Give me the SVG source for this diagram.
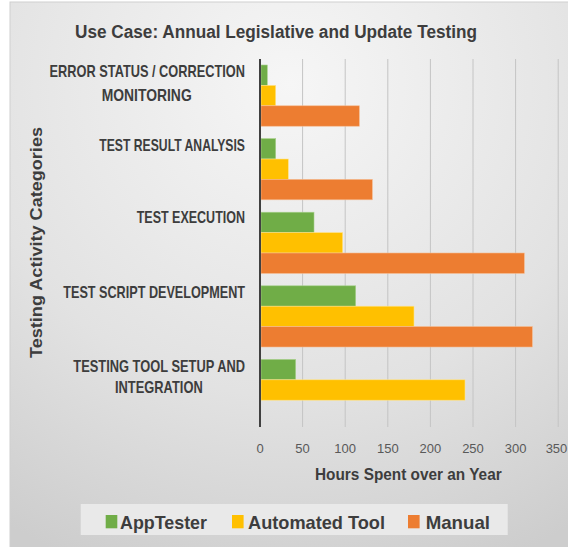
<svg xmlns="http://www.w3.org/2000/svg" width="568" height="547" viewBox="0 0 568 547">
<defs>
<radialGradient id="bg" cx="50%" cy="15%" r="95%">
<stop offset="0" stop-color="#f6f6f6"/>
<stop offset="0.6" stop-color="#e2e2e2"/>
<stop offset="1" stop-color="#cdcdcd"/>
</radialGradient>
</defs>
<style>
text{font-family:"Liberation Sans",Arial,sans-serif;font-weight:bold;fill:#3d3d3d}
.cat{font-size:17px}
.tick{font-size:13px;font-weight:normal;fill:#595959;text-anchor:middle}
.grid{stroke:#c4c4c4;stroke-width:1}
.g{fill:#70ad47;stroke:#a9d18e;stroke-width:0.6}
.y{fill:#ffc000;stroke:#ffe38a;stroke-width:0.6}
.o{fill:#ed7d31;stroke:#f6b98d;stroke-width:0.6}
.leg{font-size:19px}
</style>
<rect x="0" y="0" width="568" height="547" fill="#ffffff"/>
<rect x="10" y="2" width="560" height="547" fill="url(#bg)" stroke="#d0d0d0" stroke-width="1"/>
<text id="title" x="75" y="37.5" font-size="18" textLength="402" lengthAdjust="spacingAndGlyphs">Use Case: Annual Legislative and Update Testing</text>
<g id="gridlines">
<line class="grid" x1="302.6" y1="59" x2="302.6" y2="427"/>
<line class="grid" x1="345.2" y1="59" x2="345.2" y2="427"/>
<line class="grid" x1="387.8" y1="59" x2="387.8" y2="427"/>
<line class="grid" x1="430.4" y1="59" x2="430.4" y2="427"/>
<line class="grid" x1="473" y1="59" x2="473" y2="427"/>
<line class="grid" x1="515.6" y1="59" x2="515.6" y2="427"/>
<line class="grid" x1="558.2" y1="59" x2="558.2" y2="427"/>
</g>
<g id="cat-error">
<text class="cat" x="49.6" y="76.7" textLength="195.4" lengthAdjust="spacingAndGlyphs">ERROR STATUS / CORRECTION</text>
<text class="cat" x="101.7" y="100.5" textLength="90" lengthAdjust="spacingAndGlyphs">MONITORING</text>
<rect class="g" x="261" y="65" width="6.3" height="20.4"/>
<rect class="y" x="261" y="85.4" width="14.7" height="20.4"/>
<rect class="o" x="261" y="105.8" width="98.3" height="20.4"/>
</g>
<g id="cat-result">
<text class="cat" x="99.3" y="151.3" textLength="145.7" lengthAdjust="spacingAndGlyphs">TEST RESULT ANALYSIS</text>
<rect class="g" x="261" y="138.6" width="14.7" height="20.4"/>
<rect class="y" x="261" y="159" width="27.3" height="20.4"/>
<rect class="o" x="261" y="179.4" width="111.3" height="20.4"/>
</g>
<g id="cat-exec">
<text class="cat" x="136.7" y="223.3" textLength="108.3" lengthAdjust="spacingAndGlyphs">TEST EXECUTION</text>
<rect class="g" x="261" y="212.2" width="53" height="20.4"/>
<rect class="y" x="261" y="232.6" width="81.7" height="20.4"/>
<rect class="o" x="261" y="253" width="263.3" height="20.4"/>
</g>
<g id="cat-script">
<text class="cat" x="63.3" y="298.3" textLength="181.7" lengthAdjust="spacingAndGlyphs">TEST SCRIPT DEVELOPMENT</text>
<rect class="g" x="261" y="285.8" width="94.7" height="20.4"/>
<rect class="y" x="261" y="306.2" width="153" height="20.4"/>
<rect class="o" x="261" y="326.6" width="271.3" height="20.4"/>
</g>
<g id="cat-setup">
<text class="cat" x="73.3" y="371.7" textLength="171.7" lengthAdjust="spacingAndGlyphs">TESTING TOOL SETUP AND</text>
<text class="cat" x="115" y="393.3" textLength="87.7" lengthAdjust="spacingAndGlyphs">INTEGRATION</text>
<rect class="g" x="261" y="359.4" width="34.7" height="20.4"/>
<rect class="y" x="261" y="379.8" width="204" height="20.4"/>
</g>
<line id="axis" x1="260" y1="59" x2="260" y2="427" stroke="#404040" stroke-width="2"/>
<g id="ticks">
<text class="tick" x="260" y="453.3">0</text>
<text class="tick" x="302.6" y="453.3">50</text>
<text class="tick" x="345.2" y="453.3">100</text>
<text class="tick" x="387.8" y="453.3">150</text>
<text class="tick" x="430.4" y="453.3">200</text>
<text class="tick" x="473" y="453.3">250</text>
<text class="tick" x="515.6" y="453.3">300</text>
<text class="tick" x="556.5" y="453.3">350</text>
</g>
<text id="xtitle" x="315" y="480" font-size="17" textLength="186.7" lengthAdjust="spacingAndGlyphs">Hours Spent over an Year</text>
<text id="ytitle" transform="translate(41.5,358) rotate(-90)" x="0" y="0" font-size="16.5" textLength="231" lengthAdjust="spacingAndGlyphs" fill="#595959">Testing Activity Categories</text>
<g id="legend">
<rect x="80.7" y="504" width="427" height="31" fill="#ebebeb" opacity="0.9"/>
<rect x="105.7" y="515" width="11.6" height="13.3" fill="#70ad47"/>
<text class="leg" x="120" y="529.3" textLength="87" lengthAdjust="spacingAndGlyphs">AppTester</text>
<rect x="232" y="515" width="11.6" height="13.3" fill="#ffc000"/>
<text class="leg" x="248" y="529.3" textLength="137" lengthAdjust="spacingAndGlyphs">Automated Tool</text>
<rect x="408" y="515" width="11.6" height="13.3" fill="#ed7d31"/>
<text class="leg" x="425.7" y="529.3" textLength="64.3" lengthAdjust="spacingAndGlyphs">Manual</text>
</g>
</svg>
